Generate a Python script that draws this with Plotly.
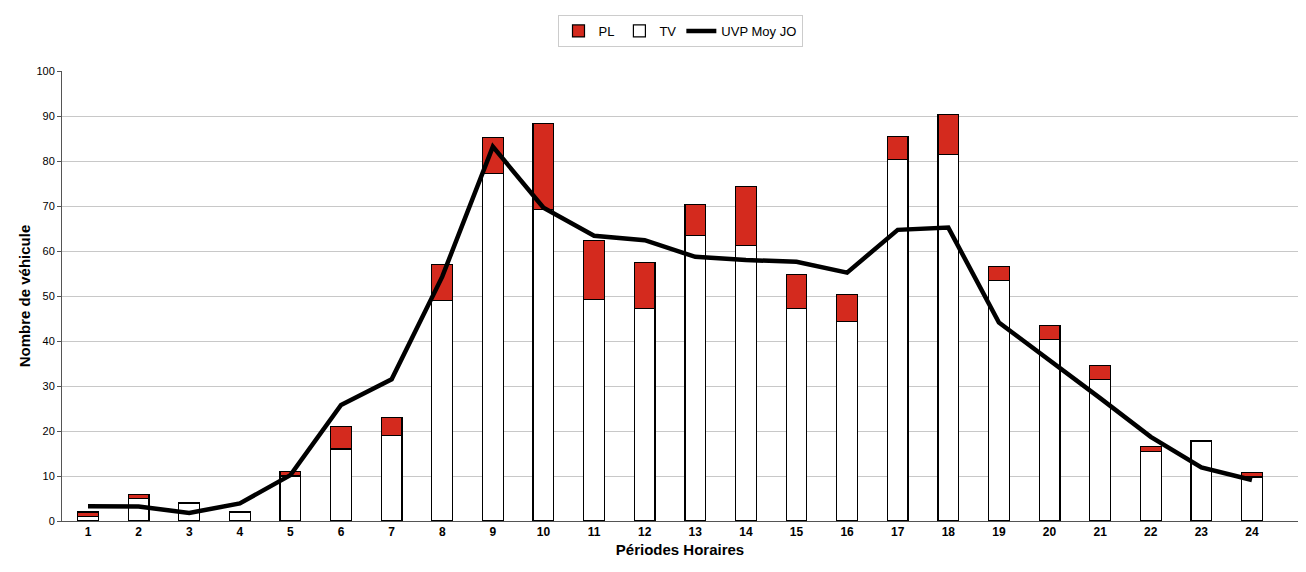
import plotly.graph_objects as go

periodes = list(range(1, 25))
tv = [1, 5, 4, 2, 10, 16, 19, 49, 77.3, 69.3, 49.3, 47.2, 63.4, 61.3, 47.3, 44.3,
      80.4, 81.5, 53.5, 40.4, 31.5, 15.4, 17.8, 9.8]
pl = [1, 0.9, 0, 0, 1, 5, 4, 8, 8, 19, 13, 10.2, 7, 13.1, 7.4, 6.1,
      5, 8.9, 3, 3, 3.1, 1.1, 0, 0.9]
uvp = [3.3, 3.2, 1.8, 3.9, 10.2, 25.8, 31.5, 54.3, 83.2, 69.6, 63.4, 62.4, 58.7, 58.0,
       57.6, 55.2, 64.7, 65.2, 44.1, 35.8, 27.3, 18.7, 11.9, 9.1]

fig = go.Figure()
fig.add_trace(go.Bar(x=periodes, y=tv, name="TV", width=0.41,
                     marker=dict(color="white", line=dict(color="black", width=1.2)),
                     legendrank=2))
fig.add_trace(go.Bar(x=periodes, y=pl, name="PL", width=0.41,
                     marker=dict(color="#d42a1e", line=dict(color="black", width=1.2)),
                     legendrank=1))
fig.add_trace(go.Scatter(x=periodes, y=uvp, name="UVP Moy JO", mode="lines",
                         line=dict(color="black", width=4.5), legendrank=3))

fig.update_layout(
    width=1298, height=564,
    barmode="stack",
    paper_bgcolor="white",
    plot_bgcolor="white",
    margin=dict(l=54, r=8, t=62, b=51),
    font=dict(family="Liberation Sans, Arial, sans-serif", color="black"),
    showlegend=True,
    legend=dict(orientation="h", x=0.5, xanchor="center", y=1.0865, yanchor="middle",
                traceorder="normal",
                bordercolor="#cccccc", borderwidth=1, bgcolor="white",
                font=dict(size=13), itemwidth=30),
    xaxis=dict(range=[0.486, 24.91], tickmode="array", tickvals=periodes,
               ticktext=[str(p) for p in periodes],
               tickfont=dict(size=12, weight="bold"),
               showline=True, linecolor="#555555", linewidth=1,
               showgrid=False, ticks="", zeroline=False,
               title=dict(text="<b>Périodes Horaires</b>", font=dict(size=15), standoff=6)),
    yaxis=dict(range=[0, 100], dtick=10,
               tickfont=dict(size=11),
               showline=True, linecolor="#555555", linewidth=1,
               showgrid=True, gridcolor="#c8c8c8", gridwidth=1,
               ticks="outside", ticklen=4, tickcolor="#555555",
               zeroline=False,
               title=dict(text="<b>Nombre de véhicule</b>", font=dict(size=15), standoff=2)),
)

fig.write_html("out.html")
